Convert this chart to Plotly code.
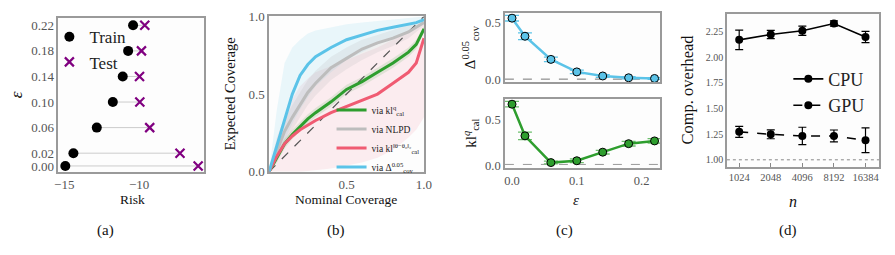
import plotly.graph_objects as go

FONT = "'Liberation Serif', 'DejaVu Serif', 'Times New Roman', serif"
TICKC = "#555555"
SPINE = "#9a9a9a"

# ---------- panel (a) data ----------
eps_a = [0.00, 0.02, 0.06, 0.10, 0.14, 0.18, 0.22]
eps_a_labels = ["0.00", "0.02", "0.06", "0.10", "0.14", "0.18", "0.22"]
risk_train = [-14.93, -14.39, -12.83, -11.76, -11.10, -10.74, -10.41]
risk_test = [-6.07, -7.28, -9.30, -9.96, -9.98, -9.85, -9.63]

# ---------- panel (b) data ----------
nom_cov = [0.0, 0.05, 0.1, 0.15, 0.2, 0.25, 0.3, 0.4, 0.5, 0.6, 0.7, 0.8, 0.9, 0.95, 1.0]
cov_klq = [0.0, 0.09, 0.18, 0.24, 0.29, 0.34, 0.38, 0.45, 0.53, 0.58, 0.64, 0.70, 0.77, 0.82, 0.92]
cov_nlpd = [0.0, 0.13, 0.26, 0.35, 0.43, 0.51, 0.57, 0.67, 0.73, 0.79, 0.83, 0.86, 0.90, 0.93, 0.96]
cov_klth = [0.0, 0.10, 0.18, 0.23, 0.27, 0.30, 0.33, 0.38, 0.42, 0.46, 0.50, 0.57, 0.64, 0.70, 0.86]
cov_dcov = [0.0, 0.17, 0.33, 0.50, 0.62, 0.69, 0.74, 0.80, 0.85, 0.88, 0.91, 0.93, 0.95, 0.96, 0.98]
band_klq_lo = [0.0, 0.06, 0.15, 0.21, 0.26, 0.31, 0.35, 0.42, 0.50, 0.55, 0.61, 0.67, 0.74, 0.79, 0.90]
band_klq_hi = [0.0, 0.12, 0.21, 0.27, 0.32, 0.37, 0.41, 0.48, 0.56, 0.61, 0.67, 0.73, 0.80, 0.85, 0.94]
band_nlpd_lo = [0.0, 0.07, 0.18, 0.27, 0.35, 0.43, 0.49, 0.59, 0.66, 0.72, 0.77, 0.81, 0.86, 0.90, 0.94]
band_nlpd_hi = [0.0, 0.19, 0.34, 0.43, 0.51, 0.59, 0.65, 0.74, 0.80, 0.85, 0.88, 0.91, 0.94, 0.96, 0.98]
band_klth_lo = [0.0, 0.0, 0.0, 0.0, 0.0, 0.005, 0.01, 0.02, 0.04, 0.06, 0.09, 0.14, 0.22, 0.27, 0.35]
band_klth_hi = [0.0, 0.22, 0.35, 0.47, 0.55, 0.60, 0.64, 0.68, 0.72, 0.76, 0.80, 0.85, 0.90, 0.93, 0.98]
band_dcov_lo = [0.0, 0.08, 0.20, 0.31, 0.40, 0.48, 0.55, 0.64, 0.72, 0.77, 0.82, 0.86, 0.90, 0.93, 0.96]
band_dcov_hi = [0.0, 0.40, 0.70, 0.80, 0.85, 0.89, 0.91, 0.93, 0.95, 0.96, 0.97, 0.98, 0.99, 0.995, 1.0]
diag = [0.0, 1.0]

# ---------- panel (c) data ----------
eps_c = [0.0, 0.02, 0.06, 0.10, 0.14, 0.18, 0.22]
dcov_c = [0.54, 0.38, 0.175, 0.064, 0.028, 0.012, 0.006]
dcov_err = [0.025, 0.03, 0.02, 0.015, 0.012, 0.01, 0.008]
klq_c = [0.663, 0.32, 0.03, 0.05, 0.143, 0.235, 0.265]
klq_err = [0.03, 0.04, 0.015, 0.02, 0.02, 0.025, 0.025]

# ---------- panel (d) data ----------
n_labels = ["1024", "2048", "4096", "8192", "16384"]
n_idx = [0, 1, 2, 3, 4]
cpu = [2.167, 2.22, 2.256, 2.326, 2.195]
cpu_err = [0.095, 0.04, 0.045, 0.025, 0.055]
gpu = [1.272, 1.248, 1.232, 1.232, 1.19]
gpu_err = [0.053, 0.043, 0.085, 0.058, 0.12]

GREEN = "#2e9e2e"
GREY = "#bdbdbd"
RED = "#f05b72"
BLUE = "#5bc3e8"
PURPLE = "#800080"

fig = go.Figure()

# ----- (a) -----
cx, cy = [], []
for tr, te, e in zip(risk_train, risk_test, eps_a):
    cx += [tr, te, None]
    cy += [e, e, None]
fig.add_trace(go.Scatter(x=cx, y=cy, mode="lines", line=dict(color="#cccccc", width=1),
                         showlegend=False, xaxis="x", yaxis="y", hoverinfo="skip"))
fig.add_trace(go.Scatter(x=risk_train, y=eps_a, mode="markers", name="Train",
                         marker=dict(color="black", size=10), xaxis="x", yaxis="y", legend="legend"))
fig.add_trace(go.Scatter(x=risk_test, y=eps_a, mode="markers", name="Test",
                         marker=dict(color=PURPLE, size=9, symbol="x-thin", line=dict(color=PURPLE, width=2.2)),
                         xaxis="x", yaxis="y", legend="legend"))

# ----- (b) -----
def band(lo, hi, color):
    fig.add_trace(go.Scatter(x=nom_cov, y=lo, mode="lines", line=dict(width=0), showlegend=False,
                             xaxis="x2", yaxis="y2", hoverinfo="skip"))
    fig.add_trace(go.Scatter(x=nom_cov, y=hi, mode="lines", line=dict(width=0), fill="tonexty",
                             fillcolor=color, showlegend=False, xaxis="x2", yaxis="y2", hoverinfo="skip"))

band(band_klth_lo, band_klth_hi, "rgba(240,91,114,0.10)")
band(band_dcov_lo, band_dcov_hi, "rgba(91,195,232,0.12)")
band(band_nlpd_lo, band_nlpd_hi, "rgba(180,180,180,0.18)")
band(band_klq_lo, band_klq_hi, "rgba(46,158,46,0.13)")

fig.add_trace(go.Scatter(x=diag, y=diag, mode="lines", line=dict(color="#555555", width=1.2, dash="dash"),
                         showlegend=False, xaxis="x2", yaxis="y2"))
for ys, nm, col in [(cov_klq, "via kl<sup>q</sup><sub>cal</sub>", GREEN),
                    (cov_nlpd, "via NLPD", GREY),
                    (cov_klth, "via kl<sup>‖θ−θ₀‖₂</sup><sub>cal</sub>", RED),
                    (cov_dcov, "via Δ<sup>0.05</sup><sub>cov</sub>", BLUE)]:
    fig.add_trace(go.Scatter(x=nom_cov, y=ys, mode="lines", name=nm, line=dict(color=col, width=3),
                             xaxis="x2", yaxis="y2", legend="legend2"))

# ----- (c) -----
fig.add_trace(go.Scatter(x=[-0.011, 0.229], y=[0, 0], mode="lines",
                         line=dict(color="#777777", width=1, dash="dash"), showlegend=False,
                         xaxis="x3", yaxis="y3"))
fig.add_trace(go.Scatter(x=eps_c, y=dcov_c, mode="lines+markers", line=dict(color=BLUE, width=2.5),
                         marker=dict(color=BLUE, size=8, line=dict(color="black", width=1)),
                         error_y=dict(type="data", array=dcov_err, color=BLUE, thickness=1.3, width=7),
                         showlegend=False, xaxis="x3", yaxis="y3"))
fig.add_trace(go.Scatter(x=[-0.011, 0.229], y=[0.01, 0.01], mode="lines",
                         line=dict(color="#999999", width=1, dash="dash"), showlegend=False,
                         xaxis="x4", yaxis="y4"))
fig.add_trace(go.Scatter(x=eps_c, y=klq_c, mode="lines+markers", line=dict(color=GREEN, width=2.5),
                         marker=dict(color=GREEN, size=8, line=dict(color="black", width=1)),
                         error_y=dict(type="data", array=klq_err, color="#6dbf6d", thickness=1.3, width=7),
                         showlegend=False, xaxis="x4", yaxis="y4"))

# ----- (d) -----
fig.add_trace(go.Scatter(x=[-0.39, 4.44], y=[1.0, 1.0], mode="lines",
                         line=dict(color="#888888", width=1, dash="dot"), showlegend=False,
                         xaxis="x5", yaxis="y5"))
fig.add_trace(go.Scatter(x=n_idx, y=cpu, mode="lines+markers", name="CPU",
                         line=dict(color="black", width=1.6), marker=dict(color="black", size=8),
                         error_y=dict(type="data", array=cpu_err, color="black", thickness=1.2, width=4),
                         xaxis="x5", yaxis="y5", legend="legend3"))
fig.add_trace(go.Scatter(x=n_idx, y=gpu, mode="lines+markers", name="GPU",
                         line=dict(color="black", width=1.6, dash="dash"), marker=dict(color="black", size=8),
                         error_y=dict(type="data", array=gpu_err, color="black", thickness=1.2, width=4),
                         xaxis="x5", yaxis="y5", legend="legend3"))

W, H = 895, 255
def dx(a, b):
    return [a / W, b / W]
def dy(top, bot):
    return [1 - bot / H, 1 - top / H]

ax_common = dict(showgrid=False, zeroline=False, showline=True, mirror=True, linecolor=SPINE,
                 linewidth=1.5, ticks="", tickfont=dict(family=FONT, size=13, color=TICKC))

fig.update_layout(
    width=W, height=H, margin=dict(l=0, r=0, t=0, b=0),
    paper_bgcolor="white", plot_bgcolor="#fdfdfd",
    font=dict(family=FONT, color="black"),
    xaxis=dict(ax_common, domain=dx(55, 203), range=[-15.4, -5.66], tickvals=[-15, -10], anchor="y"),
    yaxis=dict(ax_common, domain=dy(12, 175), range=[-0.009, 0.231], tickvals=eps_a,
               ticktext=eps_a_labels, anchor="x"),
    xaxis2=dict(ax_common, domain=dx(268.7, 425.7), range=[0, 1], tickvals=[0.5, 1.0],
                ticktext=["0.5", "1.0"], anchor="y2"),
    yaxis2=dict(ax_common, domain=dy(10, 175), range=[0, 1], tickvals=[0, 0.5, 1.0],
                ticktext=["0.0", "0.5", "1.0"], anchor="x2"),
    xaxis3=dict(ax_common, domain=dx(507.7, 665.3), range=[-0.011, 0.229], showticklabels=False,
                anchor="y3"),
    yaxis3=dict(ax_common, domain=dy(6.7, 80), range=[-0.028, 0.583], tickvals=[0, 0.5],
                ticktext=["0.0", "0.5"], anchor="x3", tickfont=dict(family=FONT, size=12.5, color=TICKC)),
    xaxis4=dict(ax_common, domain=dx(507.7, 665.3), range=[-0.011, 0.229], tickvals=[0, 0.1, 0.2],
                ticktext=["0.0", "0.1", "0.2"], anchor="y4", tickfont=dict(family=FONT, size=12.5, color=TICKC)),
    yaxis4=dict(ax_common, domain=dy(97.7, 171), range=[-0.028, 0.72], tickvals=[0, 0.5],
                ticktext=["0.0", "0.5"], anchor="x4", tickfont=dict(family=FONT, size=12.5, color=TICKC)),
    xaxis5=dict(ax_common, domain=dx(732.7, 887.3), range=[-0.39, 4.44], tickvals=n_idx,
                ticktext=n_labels, anchor="y5", ticks="inside", ticklen=4, tickcolor="#888888",
                tickfont=dict(family=FONT, size=10.5, color=TICKC)),
    yaxis5=dict(ax_common, domain=dy(7.3, 170), range=[0.93, 2.42], tickvals=[1.0, 1.25, 1.5, 1.75, 2.0, 2.25],
                ticktext=["1.00", "1.25", "1.50", "1.75", "2.00", "2.25"], anchor="x5",
                tickfont=dict(family=FONT, size=10, color=TICKC)),
    legend=dict(x=46 / W, y=1 - 13 / H, xanchor="left", yanchor="top", bgcolor="rgba(0,0,0,0)",
                font=dict(family=FONT, size=17, color="#222222"), tracegroupgap=0, traceorder="normal"),
    legend2=dict(x=332 / W, y=1 - 94 / H, xanchor="left", yanchor="top", bgcolor="rgba(0,0,0,0)",
                 font=dict(family=FONT, size=9.5, color="#222222"), tracegroupgap=0, traceorder="normal"),
    legend3=dict(x=795 / W, y=1 - 57 / H, xanchor="left", yanchor="top", bgcolor="rgba(0,0,0,0)",
                 font=dict(family=FONT, size=18, color="#222222"), tracegroupgap=0, traceorder="normal"),
)

ann = []
def A(text, x, y, size, angle=0, color="#111111"):
    ann.append(dict(text=text, x=x / W, y=1 - y / H, xref="paper", yref="paper", showarrow=False,
                    xanchor="center", yanchor="middle", textangle=angle,
                    font=dict(family=FONT, size=size, color=color)))

A("Risk", 130, 204, 13.5)
A("Nominal Coverage", 347, 204, 13.5)
A("<i>ε</i>", 580, 205, 15)
A("<i>n</i>", 800, 207, 16)
A("<i>ε</i>", 13, 93, 17, -90)
A("Expected Coverage", 229, 92, 14.5, -90)
A("Δ<sup>0.05</sup><sub>cov</sub>", 473, 43, 15, -90)
A("kl<sup><i>q</i></sup><sub>cal</sub>", 473, 134, 15, -90)
A("Comp. overhead", 693, 88, 16.5, -90)
A("(a)", 103, 237, 15)
A("(b)", 337, 237, 15)
A("(c)", 568, 237, 15)
A("(d)", 795, 237, 15)
fig.update_layout(annotations=ann)

fig.write_html("out.html")
